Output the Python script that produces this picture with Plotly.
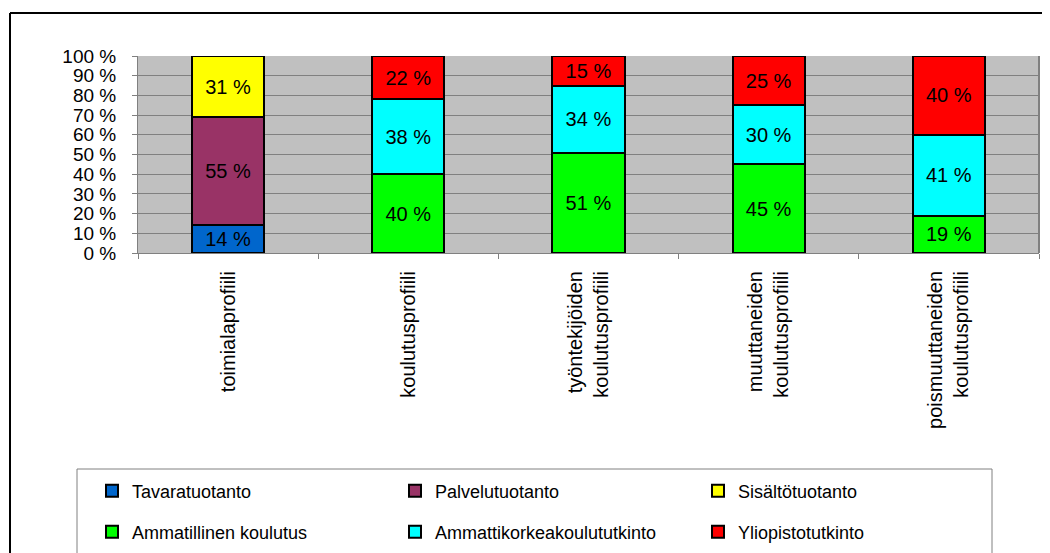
import plotly.graph_objects as go

categories = ["toimialaprofiili", "koulutusprofiili", "työntekijöiden<br>koulutusprofiili",
              "muuttaneiden<br>koulutusprofiili", "poismuuttaneiden<br>koulutusprofiili"]

tavaratuotanto = [14, None, None, None, None]
palvelutuotanto = [55, None, None, None, None]
sisaltotuotanto = [31, None, None, None, None]
ammatillinen = [None, 40, 51, 45, 19]
amk = [None, 38, 34, 30, 41]
yliopisto = [None, 22, 15, 25, 40]

y_ticks = [0, 10, 20, 30, 40, 50, 60, 70, 80, 90, 100]
y_ticktext = [f"{v} %" for v in y_ticks]

series = [
    ("Tavaratuotanto", tavaratuotanto, "#0066CC", "legend"),
    ("Palvelutuotanto", palvelutuotanto, "#993366", "legend"),
    ("Sisältötuotanto", sisaltotuotanto, "#FFFF00", "legend"),
    ("Ammatillinen koulutus", ammatillinen, "#00FF00", "legend2"),
    ("Ammattikorkeakoulututkinto", amk, "#00FFFF", "legend2"),
    ("Yliopistotutkinto", yliopisto, "#FF0000", "legend2"),
]

OFF = 8  # page body margin
W, H = 1050 - OFF, 553 - OFF
# plot area in screen pixels
SX0, SX1, SY0, SY1 = 138, 1039, 56, 253
L = SX0 - OFF
R = W - (SX1 - OFF)
T = SY0 - OFF
B = H - (SY1 - OFF)
PW, PH = W - L - R, H - T - B


def px(xs):
    return (xs - SX0) / PW


def py(ys):
    return (SY1 - ys) / PH


FONT = "Arial, Liberation Sans, sans-serif"

fig = go.Figure()
for name, vals, color, lg in series:
    fig.add_trace(go.Bar(
        x=categories, y=vals, name=name, legend=lg,
        marker=dict(color=color, line=dict(color="black", width=2)),
        width=0.4,
        texttemplate="%{y:.0f} %", textposition="inside", insidetextanchor="middle",
        textangle=0, constraintext="none",
        textfont=dict(color="black", size=20, family=FONT),
        hoverinfo="skip",
    ))

shapes = [
    dict(type="line", xref="paper", yref="paper", x0=px(10), x1=px(1060), y0=py(13), y1=py(13),
         line=dict(color="black", width=2)),
    dict(type="line", xref="paper", yref="paper", x0=px(10), x1=px(10), y0=py(13), y1=py(600),
         line=dict(color="black", width=2)),
    dict(type="rect", xref="paper", yref="paper", x0=px(77), x1=px(992), y0=py(620), y1=py(469),
         line=dict(color="#808080", width=1), fillcolor="rgba(0,0,0,0)"),
    dict(type="line", xref="paper", yref="paper", x0=1, x1=1, y0=0, y1=1,
         line=dict(color="#808080", width=2)),
]

legend_common = dict(orientation="h", xanchor="left", yanchor="middle",
                     entrywidth=258, entrywidthmode="pixels", bgcolor="rgba(0,0,0,0)",
                     font=dict(family=FONT, size=18, color="black"), traceorder="normal")

fig.update_layout(
    width=W, height=H,
    margin=dict(l=L, r=R, t=T, b=B, pad=0, autoexpand=False),
    barmode="stack",
    paper_bgcolor="white",
    plot_bgcolor="#C0C0C0",
    font=dict(family=FONT, size=20, color="black"),
    shapes=shapes,
    legend=dict(x=px(92), y=py(491), **legend_common),
    legend2=dict(x=px(92), y=py(532), **legend_common),
    xaxis=dict(
        tickangle=-90, tickson="boundaries", ticks="outside", ticklen=5, tickcolor="#808080",
        showline=True, linecolor="#808080", linewidth=1, showgrid=False,
        ticklabelstandoff=9, automargin=False,
        tickfont=dict(family=FONT, size=20, color="black"), fixedrange=True,
    ),
    yaxis=dict(
        range=[0, 100], tickmode="array", tickvals=y_ticks, ticktext=y_ticktext,
        showgrid=True, gridcolor="#808080", gridwidth=1,
        ticks="outside", ticklen=5, tickcolor="#808080", ticklabelstandoff=12,
        showline=True, linecolor="#808080", linewidth=1, zeroline=False, automargin=False,
        tickfont=dict(family=FONT, size=19, color="black"), fixedrange=True,
    ),
)

fig.write_html("out.html")
